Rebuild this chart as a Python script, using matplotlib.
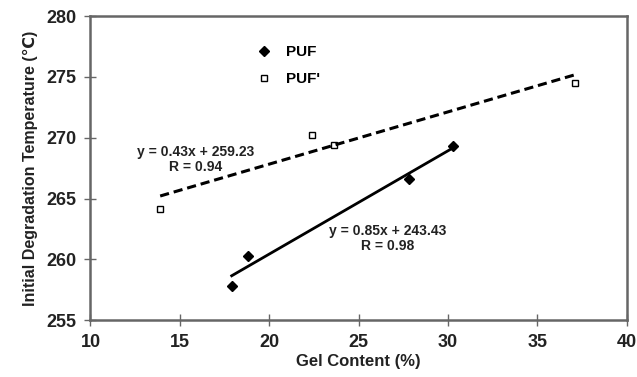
import matplotlib
matplotlib.use("Agg")
import matplotlib.pyplot as plt
import numpy as np

plt.rcParams['font.family'] = ['Liberation Sans', 'DejaVu Sans']
plt.rcParams['font.weight'] = 'bold'

# PUF (filled diamonds)
puf_x = [17.9, 18.8, 27.8, 30.3]
puf_y = [257.8, 260.3, 266.6, 269.3]
# PUF' (open squares)
puf2_x = [13.9, 22.4, 23.6, 37.1]
puf2_y = [264.1, 270.2, 269.4, 274.5]

# trend lines as given in the figure
puf_fit = (0.85, 243.43, 0.98)
puf2_fit = (0.43, 259.23, 0.94)

fig, ax = plt.subplots(figsize=(6.37, 3.77), dpi=100)
fig.subplots_adjust(left=0.142, right=0.984, top=0.957, bottom=0.151)

ax.plot(puf_x, puf_y, linestyle="none", marker="D", markersize=5,
        color="black", label="PUF")
ax.plot(puf2_x, puf2_y, linestyle="none", marker="s", markersize=4.5,
        markerfacecolor="white", markeredgecolor="black", markeredgewidth=1,
        label="PUF'")

xs = np.array([min(puf_x), max(puf_x)])
ax.plot(xs, puf_fit[0] * xs + puf_fit[1], color="black", lw=2)
xs2 = np.array([min(puf2_x), max(puf2_x)])
ax.plot(xs2, puf2_fit[0] * xs2 + puf2_fit[1], color="black", lw=2.2,
        linestyle=(0, (3, 1.6)))

ax.text(15.9, 268.2, f"y = {puf2_fit[0]}x + {puf2_fit[1]}\nR = {puf2_fit[2]}",
        ha="center", va="center", fontsize=10, fontweight="bold",
        color="#222222", linespacing=1.1)
ax.text(26.6, 261.7, f"y = {puf_fit[0]}x + {puf_fit[1]}\nR = {puf_fit[2]}",
        ha="center", va="center", fontsize=10, fontweight="bold",
        color="#222222", linespacing=1.1)

ax.set_xlim(10, 40)
ax.set_ylim(255, 280)
ax.set_xticks([10, 15, 20, 25, 30, 35, 40])
ax.set_yticks([255, 260, 265, 270, 275, 280])
ax.tick_params(direction="inout", length=8, width=1, color="#666666",
               labelsize=13, pad=6)
for lab in ax.get_xticklabels() + ax.get_yticklabels():
    lab.set_fontweight("bold")
    lab.set_color("#222222")
for s in ax.spines.values():
    s.set_color("#666666")
    s.set_linewidth(1.8)

ax.set_xlabel("Gel Content (%)", fontsize=12, fontweight="bold",
              color="#222222", labelpad=2)
ax.set_ylabel("Initial Degradation Temperature (℃)", fontsize=11.5,
              fontweight="bold", color="#222222", labelpad=6)

ax.legend(loc="upper left", bbox_to_anchor=(0.27, 0.95), frameon=False,
          handletextpad=0.4, labelspacing=0.85,
          prop={"weight": "bold", "size": 11})

plt.savefig("out.png", dpi=100)
